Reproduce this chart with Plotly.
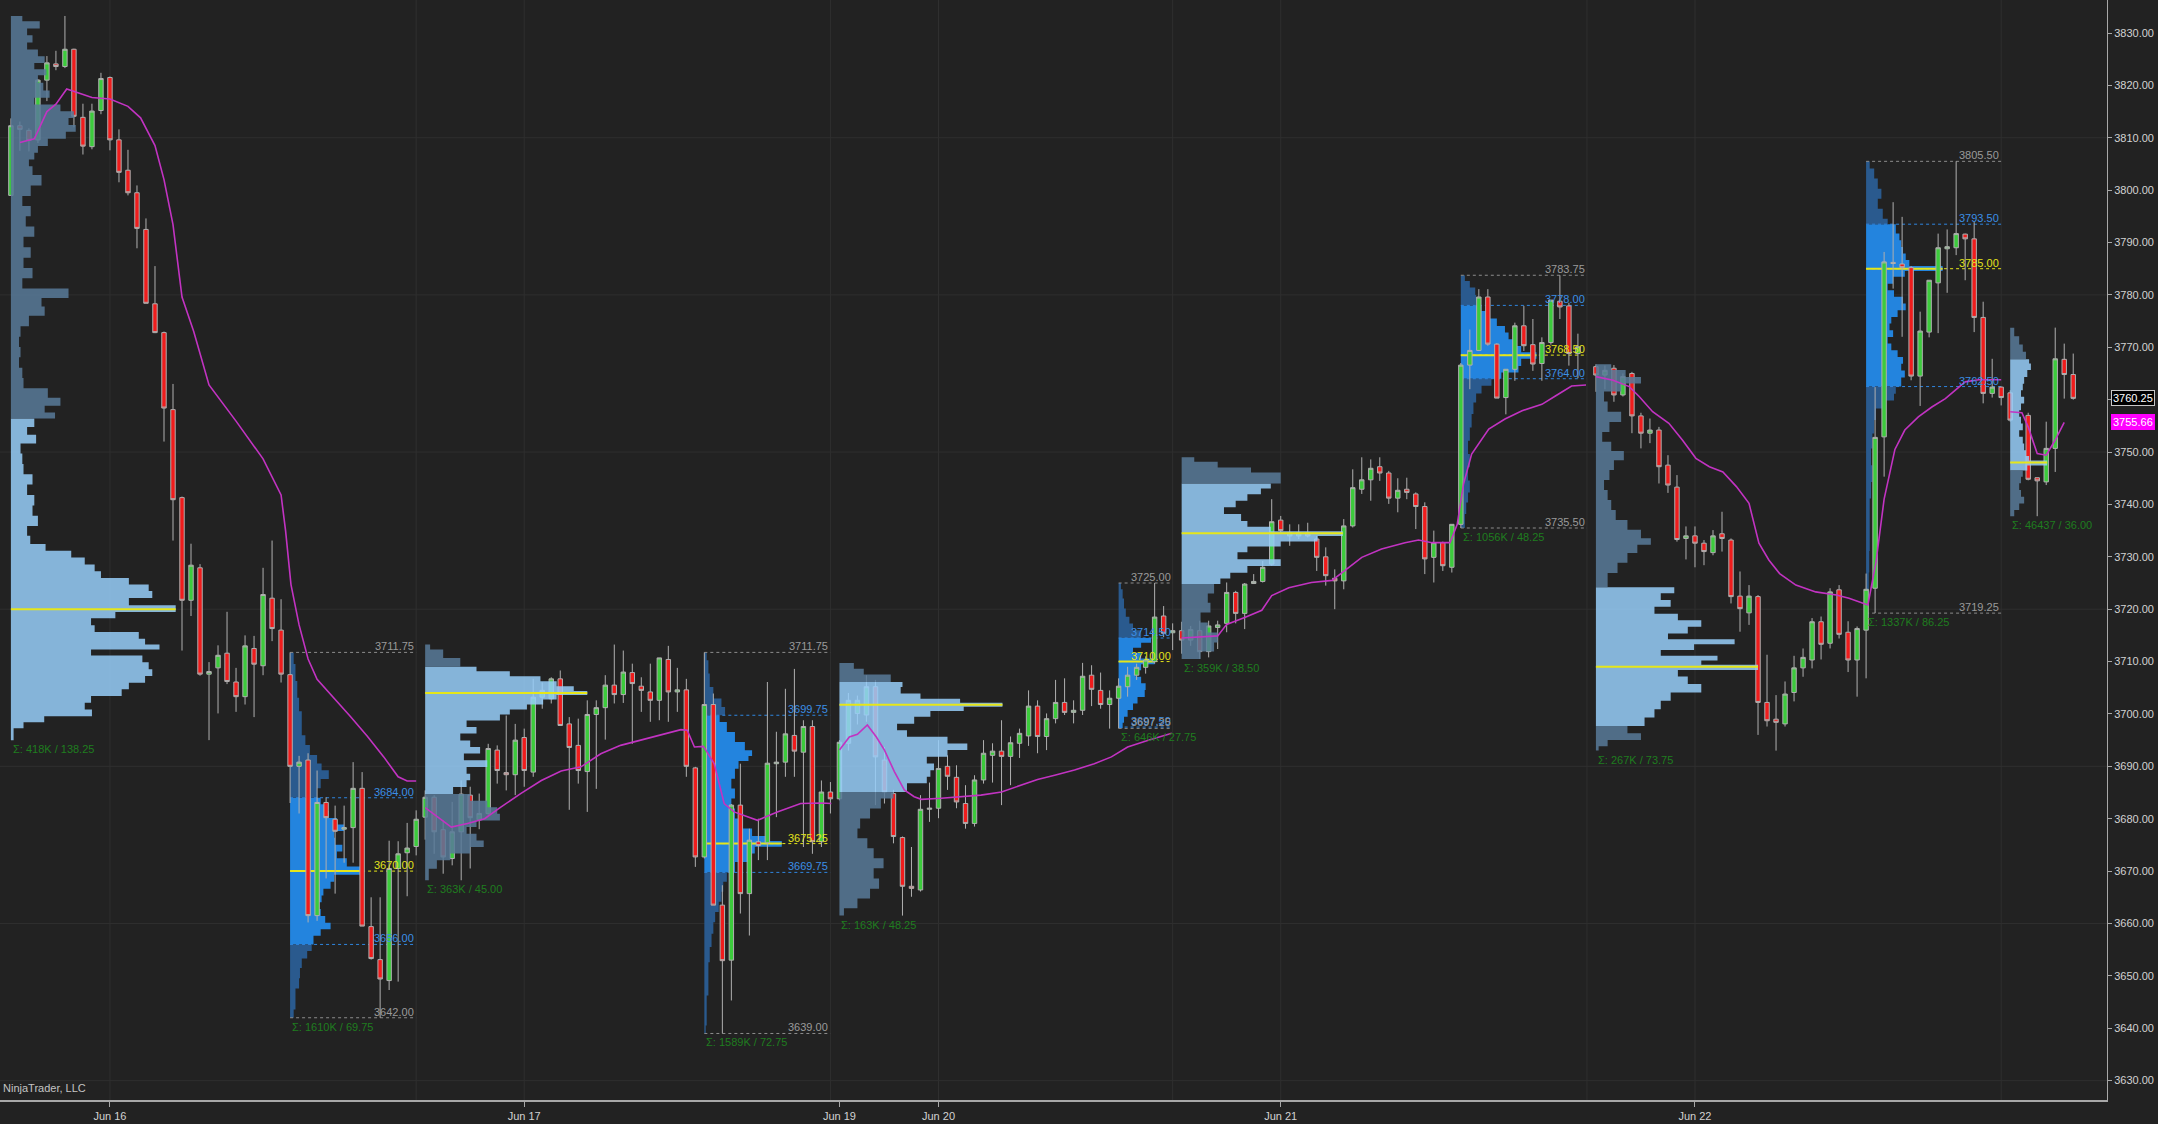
import plotly.graph_objects as go

# ---------------- data (30-minute bars, slot index; sessions back to back) ----------------
opens = [
    3799.0, 3812.3, 3811.4, 3809.6, 3821.0, 3824.1, 3823.6, 3826.9, 3813.9, 3808.3,
    3815.2, 3821.5, 3809.6, 3803.8, 3799.5, 3792.5, 3778.3, 3772.8, 3758.1, 3741.3,
    3721.7, 3727.9, 3707.6, 3708.8, 3711.6, 3706.1, 3703.3, 3712.5, 3709.2, 3722.1,
    3716.0, 3707.5, 3690.0, 3691.2, 3661.5, 3683.1, 3679.9, 3678.0, 3678.3, 3685.8,
    3659.4, 3653.1, 3649.1, 3670.5, 3673.5, 3674.7, 3680.3, 3684.1, 3677.9, 3672.4,
    3677.5, 3684.5, 3679.8, 3681.0, 3693.1, 3688.8, 3688.4, 3695.5, 3688.9, 3703.2,
    3702.9, 3706.7, 3698.1, 3694.0, 3689.0, 3699.9, 3701.2, 3705.5, 3703.7, 3707.9,
    3705.3, 3704.2, 3702.6, 3710.4, 3704.2, 3704.6, 3689.7, 3672.7, 3701.8, 3663.5,
    3653.0, 3682.6, 3665.7, 3675.6, 3675.4, 3690.5, 3690.8, 3695.9, 3692.7, 3697.6,
    3675.6, 3685.1, 3683.8, 3694.4, 3700.1, 3699.8, 3705.2, 3691.2, 3684.8, 3676.4,
    3667.1, 3666.4, 3681.8, 3682.0, 3690.0, 3687.9, 3682.9, 3679.1, 3687.4, 3692.1,
    3692.9, 3691.9, 3694.4, 3695.8, 3701.5, 3695.7, 3699.1, 3702.2, 3700.3, 3700.7,
    3707.4, 3704.5, 3701.8, 3703.0, 3705.2, 3707.4, 3708.9, 3710.0, 3718.7, 3715.5,
    3715.9, 3714.1, 3715.9, 3711.9, 3716.5, 3717.3, 3723.2, 3719.2, 3724.9, 3725.3,
    3728.6, 3737.0, 3734.0, 3734.0, 3734.6, 3733.4, 3730.0, 3725.9, 3725.4, 3735.9,
    3742.9, 3744.7, 3747.2, 3746.0, 3741.2, 3742.9, 3742.0, 3739.6, 3729.9, 3732.7,
    3728.0, 3736.2, 3766.6, 3769.4, 3779.6, 3770.6, 3760.4, 3765.8, 3774.1, 3770.5,
    3766.9, 3770.9, 3778.8, 3777.9, 3768.8, None, 3766.3, 3764.7, 3766.0, 3760.9,
    3765.0, 3756.9, 3753.6, 3754.2, 3747.5, 3743.3, 3733.5, 3734.0, 3732.6, 3730.8,
    3734.4, 3733.2, 3722.5, 3719.3, 3722.4, 3702.2, 3699.0, 3698.1, 3704.1, 3708.8,
    3710.3, 3717.6, 3713.5, 3723.7, 3715.6, 3710.3, 3716.0, 3724.0, 3752.9, 3786.2,
    3785.9, 3785.2, 3764.5, 3772.9, 3782.3, 3788.8, 3789.0, 3791.6, 3790.7, 3775.7,
    3761.2, 3762.4, 3761.3, None, 3757.0, 3745.1, 3744.3, 3750.7, 3767.7, 3764.8,
]
highs = [
    3813.7, 3813.1, 3811.8, 3821.2, 3825.6, 3826.6, 3833.25, 3827.0, 3816.5, 3816.5,
    3822.4, 3821.7, 3811.6, 3807.7, 3800.9, 3794.6, 3785.5, 3773.0, 3763.0, 3741.5,
    3732.5, 3728.6, 3709.9, 3713.1, 3719.5, 3708.8, 3715.0, 3714.9, 3727.9, 3733.1,
    3721.9, 3711.75, 3692.0, 3692.5, 3689.2, 3684.1, 3682.5, 3682.5, 3690.8, 3688.9,
    3665.0, 3665.0, 3675.8, 3675.7, 3679.2, 3681.6, 3685.4, 3684.5, 3679.7, 3683.2,
    3687.3, 3686.1, 3684.8, 3694.3, 3694.0, 3699.7, 3698.1, 3697.2, 3706.7, 3706.0,
    3707.0, 3708.3, 3699.4, 3699.1, 3702.6, 3702.6, 3707.4, 3713.25, 3712.1, 3709.6,
    3707.0, 3709.6, 3710.7, 3713.0, 3708.8, 3706.7, 3689.9, 3711.75, 3703.9, 3667.3,
    3682.8, 3690.5, 3678.1, 3680.0, 3706.1, 3696.6, 3704.8, 3708.6, 3698.8, 3698.8,
    3687.3, 3687.0, 3695.0, 3704.0, 3703.5, 3707.4, 3706.5, 3693.7, 3685.5, 3676.6,
    3674.6, 3684.5, 3686.9, 3695.0, 3692.1, 3690.2, 3686.4, 3688.3, 3695.0, 3694.4,
    3698.8, 3695.7, 3697.2, 3704.5, 3702.6, 3700.1, 3706.5, 3706.8, 3702.6, 3709.75,
    3709.3, 3707.9, 3704.5, 3706.8, 3709.0, 3709.6, 3711.0, 3725.0, 3720.6, 3717.3,
    3717.6, 3716.8, 3717.8, 3717.8, 3717.8, 3725.1, 3723.5, 3725.0, 3726.7, 3729.2,
    3741.0, 3737.8, 3736.2, 3736.2, 3736.5, 3734.0, 3731.8, 3727.6, 3737.2, 3746.7,
    3749.0, 3748.6, 3749.0, 3746.4, 3745.0, 3745.1, 3742.3, 3740.4, 3735.0, 3732.9,
    3736.2, 3767.0, 3773.4, 3781.1, 3781.1, 3770.8, 3765.8, 3774.7, 3777.9, 3775.4,
    3771.9, 3779.0, 3783.75, 3778.5, 3772.6, None, 3766.75, 3766.5, 3766.6, 3765.0,
    3765.3, 3757.5, 3756.4, 3754.8, 3749.4, 3745.6, 3735.8, 3735.8, 3733.2, 3735.1,
    3738.6, 3733.5, 3727.2, 3724.6, 3722.7, 3711.3, 3703.6, 3706.2, 3711.1, 3712.5,
    3718.3, 3718.6, 3724.0, 3724.6, 3717.7, 3716.7, 3726.8, 3762.4, 3788.2, 3797.7,
    3794.9, 3785.5, 3776.8, 3782.8, 3791.7, 3792.5, 3805.5, 3791.7, 3793.9, 3778.7,
    3767.8, 3762.5, 3761.8, None, 3757.5, 3745.1, 3755.8, 3773.75, 3770.7, 3768.8,
]
lows = [
    3799.0, 3807.5, 3807.4, 3809.0, 3817.0, 3822.9, 3823.3, 3812.0, 3806.8, 3807.8,
    3814.5, 3807.6, 3801.5, 3799.0, 3788.9, 3778.4, 3772.7, 3752.0, 3733.1, 3712.1,
    3718.7, 3707.3, 3695.0, 3700.1, 3705.7, 3700.4, 3701.8, 3699.4, 3707.4, 3713.9,
    3706.0, 3683.0, 3681.0, 3660.2, 3660.5, 3668.6, 3665.7, 3671.6, 3671.6, 3659.5,
    3653.1, 3642.0, 3647.3, 3648.9, 3665.2, 3673.0, 3676.0, 3673.3, 3669.5, 3671.1,
    3668.25, 3670.5, 3678.0, 3680.6, 3686.7, 3685.4, 3684.5, 3686.1, 3688.0, 3701.0,
    3702.0, 3697.8, 3681.7, 3686.7, 3681.3, 3685.7, 3695.1, 3702.0, 3702.1, 3694.3,
    3700.4, 3698.5, 3698.8, 3698.5, 3700.4, 3688.0, 3670.8, 3672.4, 3663.5, 3639.0,
    3645.3, 3661.9, 3657.7, 3672.1, 3672.1, 3680.3, 3688.0, 3688.0, 3674.6, 3673.3,
    3674.6, 3681.0, 3683.5, 3693.0, 3698.0, 3698.5, 3682.6, 3682.9, 3675.3, 3661.5,
    3665.1, 3666.1, 3679.4, 3680.1, 3685.5, 3682.0, 3678.1, 3678.5, 3686.7, 3686.9,
    3682.6, 3686.4, 3691.6, 3693.9, 3692.5, 3693.1, 3698.2, 3699.8, 3698.2, 3699.8,
    3701.5, 3701.0, 3697.2, 3697.25, 3703.3, 3706.5, 3707.7, 3709.6, 3714.7, 3712.2,
    3711.5, 3713.0, 3710.5, 3710.8, 3712.4, 3715.6, 3717.3, 3716.2, 3724.8, 3725.1,
    3728.3, 3734.6, 3732.1, 3733.4, 3733.7, 3727.3, 3724.5, 3720.0, 3723.8, 3735.6,
    3742.0, 3740.7, 3744.5, 3740.1, 3738.5, 3741.0, 3735.3, 3726.7, 3725.1, 3727.3,
    3727.0, 3735.5, 3762.0, 3769.3, 3770.3, 3760.3, 3757.2, 3763.6, 3769.3, 3765.5,
    3763.6, 3770.5, 3775.4, 3766.5, 3764.1, None, 3761.5, 3762.0, 3759.6, 3760.6,
    3753.6, 3750.7, 3751.7, 3744.0, 3742.2, 3732.9, 3729.5, 3728.0, 3728.4, 3730.3,
    3731.0, 3721.1, 3715.7, 3717.0, 3696.0, 3697.6, 3693.0, 3697.6, 3702.4, 3707.1,
    3708.7, 3710.4, 3712.5, 3714.4, 3708.0, 3703.3, 3706.8, 3719.25, 3745.3, 3781.2,
    3772.0, 3763.7, 3758.8, 3771.9, 3772.7, 3780.4, 3787.6, 3782.8, 3772.9, 3759.3,
    3760.4, 3758.9, 3755.8, None, 3744.6, 3737.75, 3743.7, 3746.2, 3760.2, 3760.0,
]
closes = [
    3812.3, 3811.6, 3809.5, 3821.0, 3824.3, 3823.6, 3826.9, 3814.1, 3808.4, 3815.1,
    3821.3, 3809.6, 3803.4, 3799.5, 3792.7, 3778.4, 3772.8, 3758.4, 3740.9, 3721.7,
    3728.4, 3707.6, 3708.1, 3711.2, 3706.2, 3703.3, 3713.0, 3709.5, 3722.8, 3716.3,
    3707.6, 3690.0, 3690.8, 3661.5, 3683.1, 3680.2, 3677.6, 3678.3, 3685.8, 3659.5,
    3653.3, 3649.4, 3670.5, 3673.3, 3674.4, 3679.9, 3684.1, 3677.5, 3672.7, 3677.5,
    3684.7, 3680.2, 3681.0, 3693.4, 3689.2, 3688.4, 3695.0, 3689.2, 3703.2, 3704.5,
    3706.7, 3697.8, 3693.6, 3689.2, 3699.9, 3701.2, 3705.5, 3703.7, 3708.0, 3705.8,
    3704.5, 3702.6, 3710.7, 3704.2, 3704.6, 3690.0, 3672.7, 3701.8, 3663.5, 3652.9,
    3682.6, 3665.7, 3675.9, 3674.9, 3690.6, 3690.8, 3696.2, 3692.9, 3697.6, 3675.6,
    3685.1, 3683.8, 3694.6, 3702.6, 3702.6, 3705.2, 3691.8, 3685.1, 3676.6, 3667.1,
    3666.7, 3681.8, 3682.0, 3689.6, 3688.1, 3683.2, 3679.1, 3687.4, 3692.5, 3692.9,
    3691.9, 3694.5, 3696.3, 3701.5, 3695.7, 3699.1, 3702.2, 3700.3, 3700.7, 3707.2,
    3704.7, 3701.8, 3703.0, 3705.3, 3707.4, 3708.9, 3710.3, 3718.5, 3715.4, 3715.9,
    3714.1, 3716.1, 3711.9, 3716.8, 3717.0, 3723.2, 3719.2, 3724.8, 3725.3, 3728.0,
    3736.7, 3735.0, 3734.6, 3734.6, 3734.0, 3729.9, 3726.4, 3725.4, 3735.9, 3743.2,
    3744.7, 3746.9, 3746.0, 3741.2, 3742.7, 3742.3, 3739.6, 3729.6, 3732.7, 3728.3,
    3736.2, 3766.6, 3769.4, 3779.6, 3770.6, 3760.3, 3765.8, 3774.1, 3770.3, 3766.8,
    3770.9, 3779.0, 3777.7, 3768.8, 3770.1, None, 3764.7, 3765.6, 3760.9, 3764.4,
    3756.9, 3753.6, 3754.2, 3747.2, 3743.7, 3733.3, 3734.0, 3732.6, 3731.0, 3734.0,
    3733.5, 3722.4, 3720.1, 3722.5, 3702.2, 3698.7, 3698.4, 3703.8, 3708.8, 3710.8,
    3717.6, 3713.3, 3723.3, 3715.2, 3710.3, 3716.3, 3723.8, 3752.8, 3786.3, 3786.0,
    3785.2, 3764.5, 3773.1, 3782.8, 3789.0, 3789.2, 3791.7, 3790.7, 3775.7, 3761.2,
    3762.4, 3760.4, 3756.1, None, 3744.8, 3744.5, 3750.7, 3767.8, 3764.8, 3760.25,
]

# session VWAP (magenta): (slot, price), None separates sessions
vwap_x = [1, 2.6, 4, 5, 6.2, 8, 9, 11, 13, 14.4, 16, 17, 18, 19, 20.3, 22, 25, 28, 30, 30.5,
          31.1, 32, 33, 34, 36, 37.7, 39.6, 41.4, 43, 44, 45, None,
          46, 47.4, 48.9, 50.7, 52.6, 54.4, 56.6, 58.9, 61.1, 63.3, 65.5, 67.7, 70, 72.2, 74.4,
          75.1, 75.9, 76.9, 78.1, 79.2, 80.3, 82.9, 85.1, 87.7, 90, 91.1, None,
          92, 93.1, 94, 95.1, 96.1, 97, 98.1, 99.2, 100.3, 101.1, 103.3, 105.5, 107.7, 110,
          112.2, 114, 115.9, 118.1, 120.3, 122.2, 124, 126.3, 128.9, None,
          130, 134, 135, 137, 138.9, 140, 141.9, 144.4, 146.7, 148.1, 150, 152.2, 154.8, 156.3,
          157.8, 159.8, 160.6, 161.3, 162.2, 164.1, 165.9, 167.8, 170, 171.5, 173.3, 174.9, None,
          176, 177.9, 179.7, 180.8, 182.3, 184.1, 185.6, 187.1, 188.6, 190.1, 191.6, 193, 194.1,
          195.2, 196.4, 198.2, 200.4, 202.7, 204.1, 205.6, 206.2, 207.1, 208, 209.2, 210.3,
          211.8, 213.3, 214.8, 215.9, 217, 218.5, 220, 221, None,
          222, 223.3, 224, 225, 226, 227, 228]
vwap_y = [3809.1, 3809.8, 3815.0, 3816.4, 3819.3, 3818.2, 3817.7, 3817.4, 3816.0, 3813.8, 3808.5,
          3802.0, 3793.4, 3779.6, 3773.0, 3762.8, 3755.9, 3748.7, 3741.8, 3735.0,
          3724.7, 3717.0, 3710.5, 3706.6, 3702.8, 3699.5, 3695.7, 3691.8, 3688.0, 3687.2, 3687.2, None,
          3682.1, 3680.3, 3678.4, 3679.1, 3680.0, 3682.2, 3684.8, 3687.3, 3689.1, 3689.9, 3692.4,
          3694.0, 3695.0, 3695.9, 3697.0, 3696.9, 3693.7, 3693.8, 3690.5, 3682.9, 3681.3, 3679.7,
          3681.3, 3682.9, 3683.0, 3682.9, None,
          3693.1, 3695.6, 3696.1, 3697.9, 3695.6, 3693.1, 3689.0, 3685.5, 3684.2, 3683.7, 3683.9,
          3684.2, 3684.5, 3685.1, 3686.4, 3687.5, 3688.3, 3689.3, 3690.5, 3691.8, 3693.7, 3695.0,
          3696.3, None,
          3714.5, 3714.9, 3717.1, 3718.4, 3719.8, 3722.6, 3724.1, 3725.1, 3725.5, 3727.3, 3729.9,
          3731.5, 3732.7, 3733.2, 3732.7, 3732.7, 3736.2, 3743.9, 3749.6, 3754.4, 3756.3, 3757.9,
          3759.1, 3760.7, 3762.6, 3762.8, None,
          3764.4, 3763.7, 3762.5, 3760.6, 3757.7, 3755.5, 3752.3, 3748.8, 3747.2, 3746.2, 3743.4,
          3740.2, 3732.6, 3729.4, 3726.8, 3724.6, 3723.3, 3722.7, 3722.1, 3721.1, 3720.8, 3729.0,
          3741.0, 3750.5, 3754.2, 3756.7, 3758.6, 3760.2, 3761.8, 3763.4, 3763.8, 3763.8, 3763.8, None,
          3757.7, 3757.5, 3754.8, 3749.7, 3749.4, 3752.3, 3755.66]

last_price = 3760.25
vwap_last = 3755.66

# axis labels / grid
tick_slots = [11, 57, 92, 103, 141, 187]
tick_text = ["Jun 16", "Jun 17", "Jun 19", "Jun 20", "Jun 21", "Jun 22"]
vgrid_slots = [11, 45, 57, 91, 103, 129, 141, 175, 187, 221]
hgrid_prices = [3630, 3660, 3690, 3720, 3750, 3780, 3810]

# ---------------- volume profiles (price level, width in bar slots) ----------------
p1_prices = [3833.0, 3831.5, 3830.2, 3828.9, 3827.5, 3826.2, 3824.9, 3823.6, 3822.6, 3821.3,
             3819.7, 3818.3, 3817.0, 3815.7, 3814.4, 3813.1, 3811.8, 3810.5, 3809.1, 3807.8,
             3806.5, 3805.2, 3803.9, 3801.9, 3799.9, 3797.9, 3796.0, 3794.0, 3792.1, 3790.1,
             3788.1, 3786.1, 3784.2, 3782.2, 3780.2, 3778.6, 3777.0, 3775.0, 3773.0, 3771.0,
             3769.1, 3767.1, 3765.1, 3763.2, 3761.2, 3759.5, 3758.2, 3756.9, 3755.6, 3754.0,
             3752.6, 3750.7, 3748.7, 3746.7, 3744.8, 3742.8, 3740.8, 3738.8, 3736.9, 3734.9,
             3733.1, 3731.8, 3730.5, 3729.2, 3727.9, 3726.6, 3725.3, 3724.1, 3722.8, 3721.5,
             3720.0, 3718.9, 3717.6, 3716.3, 3715.0, 3713.7, 3712.8, 3711.8, 3710.5, 3709.2,
             3707.9, 3706.6, 3705.3, 3704.1, 3702.8, 3701.5, 3700.2, 3698.9, 3697.9, 3696.6]
p1_widths = [1.27, 3.2, 1.8, 2.4, 1.8, 3.0, 3.75, 2.6, 3.95, 3.0,
             3.6, 4.3, 2.6, 5.5, 7.0, 6.4, 7.2, 6.1, 4.1, 3.0,
             2.6, 2.0, 2.4, 3.4, 2.2, 1.27, 2.2, 1.65, 2.6, 1.4,
             2.2, 1.4, 2.4, 1.27, 6.4, 3.4, 3.75, 2.0, 1.07, 0.9,
             1.07, 0.9, 1.27, 1.4, 4.1, 5.5, 3.75, 4.9, 2.6, 1.8,
             2.8, 1.07, 1.27, 1.4, 2.4, 1.8, 2.6, 2.4, 3.0, 1.8,
             2.15, 3.85, 6.7, 8.2, 9.3, 10.0, 13.1, 15.3, 15.7, 13.1,
             18.3, 11.6, 8.9, 9.3, 14.2, 14.9, 16.5, 8.9, 14.6, 15.3,
             15.7, 14.9, 13.1, 12.3, 8.9, 8.2, 9.0, 3.7, 1.4, 0.3]

p2_prices = [3711.2, 3707.9, 3704.7, 3701.5, 3699.5, 3696.9, 3695.0, 3693.1, 3691.2, 3689.9,
             3688.6, 3686.6, 3685.0, 3683.4, 3682.1, 3680.8, 3679.5, 3678.3, 3677.0, 3675.7,
             3674.4, 3673.1, 3671.8, 3670.0, 3668.6, 3667.3, 3666.0, 3664.7, 3663.4, 3662.1,
             3660.8, 3659.5, 3658.3, 3657.0, 3655.4, 3654.1, 3652.5, 3650.5, 3648.6, 3646.6,
             3644.7, 3642.5]
p2_widths = [0.4, 0.6, 0.8, 1.0, 1.3, 1.3, 1.7, 2.2, 3.0, 3.5,
             4.3, 3.4, 3.0, 3.4, 3.9, 4.3, 5.2, 6.0, 4.9, 5.0,
             5.8, 5.2, 6.3, 7.8, 4.9, 4.5, 3.7, 3.5, 3.2, 3.4,
             3.9, 4.5, 3.4, 2.6, 2.4, 1.9, 1.3, 1.1, 1.0, 0.6,
             0.6, 0.4]

p3_prices = [3713.1, 3711.5, 3709.9, 3708.6, 3707.7, 3706.7, 3705.8, 3704.8, 3704.0, 3703.2,
             3702.3, 3701.3, 3700.4, 3699.4, 3698.1, 3696.9, 3695.6, 3694.3, 3693.1, 3691.8,
             3690.5, 3689.2, 3688.0, 3686.7, 3685.4, 3684.1, 3682.8, 3681.6, 3680.3, 3679.0,
             3677.8, 3676.5, 3675.2, 3674.0, 3672.7, 3671.4, 3669.5]
p3_widths = [0.55, 2.0, 3.9, 5.7, 9.4, 12.8, 14.6, 16.5, 18.0, 14.6,
             13.1, 11.3, 9.4, 8.3, 4.6, 5.7, 3.9, 5.0, 6.1, 4.3,
             6.9, 4.6, 5.0, 4.6, 3.1, 5.0, 6.9, 8.0, 8.3, 5.7,
             4.6, 5.7, 6.5, 5.0, 2.8, 1.3, 0.4]

p4_prices = [3711.5, 3709.0, 3706.4, 3703.9, 3702.0, 3700.7, 3699.4, 3697.5, 3695.6, 3693.7,
             3692.4, 3691.5, 3690.5, 3688.6, 3686.7, 3684.8, 3682.9, 3681.0, 3679.1, 3677.2,
             3676.2, 3675.25, 3674.0, 3672.7, 3670.8, 3668.9, 3667.0, 3665.1, 3663.2, 3661.2,
             3659.3, 3656.8, 3654.2, 3651.0, 3647.8, 3644.7, 3641.5, 3639.5]
p4_widths = [0.26, 0.45, 0.6, 1.0, 1.9, 2.3, 1.7, 2.5, 3.4, 4.5,
             5.3, 4.9, 3.8, 3.4, 3.0, 3.4, 3.0, 3.4, 4.1, 5.3,
             7.1, 8.6, 5.6, 4.9, 3.4, 2.5, 2.1, 1.9, 1.6, 1.2,
             1.0, 0.8, 0.6, 0.45, 0.45, 0.26, 0.26, 0.15]

p5_prices = [3709.3, 3708.0, 3707.1, 3705.8, 3704.5, 3703.3, 3702.5, 3701.75, 3701.0, 3700.1,
             3698.8, 3697.5, 3696.3, 3695.0, 3693.7, 3692.5, 3691.2, 3689.9, 3688.6, 3687.4,
             3686.1, 3684.8, 3682.9, 3681.0, 3679.1, 3677.2, 3675.3, 3673.4, 3671.5, 3669.6,
             3667.6, 3665.7, 3663.8, 3662.0]
p5_widths = [1.6, 2.7, 5.7, 7.0, 6.8, 9.0, 13.4, 18.1, 13.8, 10.1,
             8.3, 6.4, 7.5, 12.0, 14.2, 12.0, 9.7, 10.5, 10.1, 9.7,
             7.5, 6.0, 4.6, 3.4, 2.3, 2.0, 3.1, 3.8, 4.9, 3.8,
             4.4, 3.4, 2.0, 0.5]

p6_prices = [3724.6, 3723.0, 3721.1, 3719.2, 3717.9, 3716.6, 3715.4, 3714.1, 3713.1, 3712.2,
             3711.2, 3710.0, 3709.0, 3707.7, 3706.5, 3705.2, 3703.9, 3702.6, 3701.4, 3700.1,
             3698.8, 3697.8]
p6_widths = [0.26, 0.45, 0.6, 0.8, 1.2, 1.6, 2.5, 3.6, 2.5, 1.6,
             2.5, 4.0, 2.5, 1.9, 2.5, 3.0, 2.9, 2.1, 1.6, 1.0,
             0.6, 0.45]

p7_prices = [3748.6, 3747.7, 3746.4, 3745.8, 3743.5, 3742.6, 3741.3, 3740.1, 3738.8, 3737.5,
             3736.2, 3735.3, 3734.5, 3733.4, 3732.4, 3731.5, 3730.2, 3728.9, 3727.6, 3726.3,
             3725.4, 3723.8, 3722.2, 3720.3, 3718.4, 3716.5, 3714.6, 3712.7, 3711.1]
p7_widths = [1.4, 4.0, 7.7, 11.0, 9.9, 8.8, 7.3, 6.0, 4.7, 6.6,
             7.3, 9.9, 17.9, 15.1, 11.0, 7.3, 6.2, 11.0, 7.3, 5.4,
             4.3, 3.6, 2.9, 3.2, 2.1, 2.9, 4.0, 3.6, 2.1]

p8_prices = [3783.3, 3782.0, 3780.8, 3779.2, 3777.6, 3776.3, 3774.7, 3773.4, 3772.2, 3770.9,
             3769.6, 3768.5, 3767.1, 3765.8, 3764.6, 3763.3, 3762.0, 3760.4, 3758.5, 3756.0,
             3753.4, 3750.9, 3748.4, 3745.8, 3743.3, 3741.3, 3739.4, 3736.9]
p8_widths = [0.45, 1.0, 1.6, 1.7, 2.3, 2.9, 4.0, 4.9, 5.3, 6.0,
             6.7, 8.4, 6.7, 6.4, 4.5, 3.4, 2.3, 1.7, 1.4, 1.2,
             1.0, 0.8, 1.0, 0.8, 1.0, 0.8, 0.6, 0.45]

p9_prices = [3766.3, 3765.0, 3763.7, 3762.5, 3760.6, 3758.7, 3756.7, 3754.8, 3752.9, 3751.0,
             3749.4, 3747.5, 3745.6, 3743.7, 3741.8, 3739.9, 3738.0, 3736.1, 3734.2, 3732.9,
             3731.7, 3729.8, 3727.9, 3725.9, 3723.7, 3722.4, 3721.1, 3719.8, 3718.5, 3717.3,
             3716.0, 3714.7, 3713.8, 3712.8, 3711.6, 3710.6, 3709.8, 3709.0, 3707.8, 3706.5,
             3704.9, 3703.3, 3701.7, 3700.1, 3698.5, 3696.9, 3695.7, 3694.4, 3693.3]
p9_widths = [1.7, 3.3, 5.0, 2.8, 0.9, 1.3, 2.8, 1.5, 0.7, 1.7,
             3.1, 2.0, 1.5, 0.9, 1.3, 1.7, 2.2, 3.5, 5.0, 6.1,
             4.6, 3.5, 2.4, 1.3, 8.7, 7.2, 8.3, 6.5, 9.1, 11.7,
             10.2, 8.0, 15.4, 10.9, 7.2, 13.5, 11.7, 18.0, 9.1, 10.2,
             11.7, 8.3, 7.2, 6.5, 5.4, 3.5, 5.0, 1.3, 0.3]

p10_prices = [3805.1, 3803.2, 3801.2, 3799.3, 3797.4, 3795.5, 3793.6, 3792.3, 3791.1, 3789.8,
              3788.5, 3787.3, 3786.0, 3785.0, 3784.1, 3782.8, 3781.5, 3780.3, 3779.0, 3777.7,
              3776.4, 3775.2, 3773.9, 3772.6, 3771.3, 3770.1, 3768.8, 3767.5, 3766.2, 3764.9,
              3763.6, 3761.8, 3760.5, 3759.2, 3757.4, 3754.8, 3752.3, 3749.1, 3745.9, 3742.7,
              3739.6, 3736.4, 3733.2, 3729.0, 3725.0, 3721.5, 3719.6]
p10_widths = [0.4, 0.9, 1.3, 1.7, 1.3, 1.85, 2.4, 3.3, 3.7, 3.9,
              4.1, 4.4, 4.8, 8.5, 4.3, 3.0, 2.4, 3.1, 4.1, 4.4,
              3.5, 2.8, 2.6, 3.0, 2.4, 2.8, 3.5, 4.1, 3.9, 4.3,
              3.9, 3.3, 3.1, 1.85, 1.1, 0.9, 0.7, 0.55, 0.7, 0.55,
              0.4, 0.4, 0.4, 0.35, 0.3, 0.25, 0.2]

p11_prices = [3772.9, 3771.3, 3769.8, 3768.5, 3767.5, 3766.3, 3765.0, 3763.7, 3762.4, 3761.2,
              3759.9, 3758.6, 3757.4, 3756.1, 3754.8, 3753.5, 3752.3, 3751.0, 3749.7, 3748.8,
              3748.0, 3746.9, 3745.9, 3744.7, 3743.4, 3742.1, 3740.8, 3739.6, 3738.3]
p11_widths = [0.45, 1.0, 1.4, 1.75, 2.1, 2.3, 1.9, 1.55, 1.4, 1.2,
              1.55, 1.2, 1.0, 1.2, 1.4, 1.0, 1.4, 1.55, 1.75, 2.1,
              4.1, 1.9, 1.4, 1.2, 1.0, 1.2, 1.55, 1.0, 0.45]

# profile summary values: start slot, box end slot (RTH), low, high, VAL, VAH, POC, label
prof_start = [0, 31, 46, 77, 92, 123, 130, 161, 176, 206, 222]
prof_end = [None, 45, None, 91, None, 129, None, 175, None, 221, None]
prof_low = [3695.0, 3642.0, 3668.25, 3639.0, 3661.5, 3697.25, 3710.5, 3735.5, 3693.0, 3719.25, 3737.75]
prof_high = [3833.25, 3711.75, 3713.25, 3711.75, 3709.75, 3725.0, 3749.0, 3783.75, 3766.75, 3805.5, 3773.75]
prof_val = [3696.0, 3656.0, 3684.7, 3669.75, 3685.1, 3697.5, 3724.8, 3764.0, 3697.7, 3762.5, 3746.5]
prof_vah = [3756.4, 3684.0, 3709.0, 3699.75, 3706.1, 3714.5, 3744.0, 3778.0, 3724.2, 3793.5, 3767.7]
prof_poc = [3720.0, 3670.0, 3704.0, 3675.25, 3701.75, 3710.0, 3734.5, 3768.5, 3709.0, 3785.0, 3748.0]
prof_sigma = ["Σ: 418K / 138.25", "Σ: 1610K / 69.75", "Σ: 363K / 45.00", "Σ: 1589K / 72.75",
              "Σ: 163K / 48.25", "Σ: 646K / 27.75", "Σ: 359K / 38.50", "Σ: 1056K / 48.25",
              "Σ: 267K / 73.75", "Σ: 1337K / 86.25", "Σ: 46437 / 36.00"]

prof_levels = [(p1_prices, p1_widths), (p2_prices, p2_widths), (p3_prices, p3_widths),
               (p4_prices, p4_widths), (p5_prices, p5_widths), (p6_prices, p6_widths),
               (p7_prices, p7_widths), (p8_prices, p8_widths), (p9_prices, p9_widths),
               (p10_prices, p10_widths), (p11_prices, p11_widths)]

# ---------------- styles ----------------
BG = "#222222"
GRID = "#2f2f2f"
AXIS = "#a8a8a8"
TXT = "#d2d2d2"
FONT = "Liberation Sans, Arial, sans-serif"
C_ON_VA = "rgba(150,205,248,0.86)"
C_ON_OUT = "rgba(88,122,152,0.86)"
C_RTH_VA = "#2384de"
C_RTH_OUT = "#2a5a8e"
C_POC = "#e6e619"
C_VA_LINE = "#2f86e0"
C_HL = "#8c8c8c"
C_SIGMA = "#1f7d1f"

fig = go.Figure()

# candles
idx = [i for i in range(len(opens)) if opens[i] is not None]
fig.add_trace(go.Candlestick(
    x=idx,
    open=[opens[i] for i in idx], high=[highs[i] for i in idx],
    low=[lows[i] for i in idx], close=[closes[i] for i in idx],
    increasing=dict(fillcolor="#3ccb3c", line=dict(color="#b0b0b0", width=1)),
    decreasing=dict(fillcolor="#f01c1c", line=dict(color="#b0b0b0", width=1)),
    whiskerwidth=0, hoverinfo="skip", showlegend=False,
))


def profile_polys(x0, prices, widths, lo, hi, va_lo, va_hi):
    pairs = sorted(zip(prices, widths))
    ps = [p for p, _ in pairs]
    ws = [w for _, w in pairs]
    n = len(ps)
    inva = [va_lo <= p <= va_hi for p in ps]
    edges = [lo] + [(ps[i] + ps[i + 1]) / 2 for i in range(n - 1)] + [hi]
    for i in range(n - 1):
        if inva[i] != inva[i + 1]:
            target = va_lo if inva[i + 1] else va_hi
            edges[i + 1] = min(max(target, ps[i]), ps[i + 1])
    runs = []
    start = 0
    for i in range(1, n + 1):
        if i == n or inva[i] != inva[start]:
            runs.append((start, i - 1, inva[start]))
            start = i
    out = {True: [], False: []}
    for a, b, flag in runs:
        xs, ys = [x0], [edges[a]]
        for k in range(a, b + 1):
            xs += [x0 + ws[k], x0 + ws[k]]
            ys += [edges[k], edges[k + 1]]
        xs += [x0, x0]
        ys += [edges[b + 1], edges[a]]
        out[flag].append((xs, ys))
    return out


shapes = []
for s in vgrid_slots:
    shapes.append(dict(type="line", xref="x", yref="paper", x0=s, x1=s, y0=0, y1=1,
                       line=dict(color=GRID, width=1), layer="below"))
for p in hgrid_prices:
    shapes.append(dict(type="line", xref="paper", yref="y", x0=0, x1=1, y0=p, y1=p,
                       line=dict(color=GRID, width=1), layer="below"))

on_poly = {True: ([], []), False: ([], [])}
for k, (pp, ww) in enumerate(prof_levels):
    res = profile_polys(prof_start[k], pp, ww, prof_low[k], prof_high[k], prof_val[k], prof_vah[k])
    if prof_end[k] is None:
        # overnight profiles are drawn translucent over the candles
        for flag in (True, False):
            for xs, ys in res[flag]:
                on_poly[flag][0].extend(xs + [None])
                on_poly[flag][1].extend(ys + [None])
    else:
        # regular-session profiles sit behind the candles
        for flag in (True, False):
            for xs, ys in res[flag]:
                path = "M " + " L ".join(f"{a},{b}" for a, b in zip(xs, ys)) + " Z"
                shapes.append(dict(type="path", xref="x", yref="y", path=path,
                                   fillcolor=C_RTH_VA if flag else C_RTH_OUT,
                                   line=dict(width=0), layer="below"))
        x0, x1 = prof_start[k], prof_end[k]
        for v, col in ((prof_high[k], C_HL), (prof_low[k], C_HL),
                       (prof_vah[k], C_VA_LINE), (prof_val[k], C_VA_LINE), (prof_poc[k], C_POC)):
            shapes.append(dict(type="line", xref="x", yref="y", x0=x0, x1=x1, y0=v, y1=v,
                               line=dict(color=col, width=1, dash="dot"), layer="below"))
        poc_w = ww[min(range(len(pp)), key=lambda i: abs(pp[i] - prof_poc[k]))]
        shapes.append(dict(type="line", xref="x", yref="y", x0=x0, x1=x0 + poc_w,
                           y0=prof_poc[k], y1=prof_poc[k], line=dict(color=C_POC, width=2), layer="below"))

for flag, col in ((True, C_ON_VA), (False, C_ON_OUT)):
    fig.add_trace(go.Scatter(x=on_poly[flag][0], y=on_poly[flag][1], mode="none", fill="toself",
                             fillcolor=col, hoverinfo="skip", showlegend=False))

# overnight POC lines
poc_x, poc_y = [], []
for k, (pp, ww) in enumerate(prof_levels):
    if prof_end[k] is None:
        x0 = prof_start[k]
        poc_w = ww[min(range(len(pp)), key=lambda i: abs(pp[i] - prof_poc[k]))]
        poc_x += [x0, x0 + poc_w, None]
        poc_y += [prof_poc[k], prof_poc[k], None]
fig.add_trace(go.Scatter(x=poc_x, y=poc_y, mode="lines", line=dict(color=C_POC, width=2),
                         hoverinfo="skip", showlegend=False))

# VWAP
fig.add_trace(go.Scatter(x=vwap_x, y=vwap_y, mode="lines", line=dict(color="#c233c2", width=1.6),
                         connectgaps=False, hoverinfo="skip", showlegend=False))

# price tag pointers
fig.add_trace(go.Scatter(x=[232.95, 232.95], y=[last_price, vwap_last], mode="markers",
                         marker=dict(symbol="triangle-left", size=13, color=["#000000", "#ff00ff"],
                                     line=dict(color=["#c8c8c8", "#ff00ff"], width=1)),
                         cliponaxis=False, hoverinfo="skip", showlegend=False))

annotations = []
for k in range(len(prof_start)):
    annotations.append(dict(x=prof_start[k], y=prof_low[k], xref="x", yref="y", text=prof_sigma[k],
                            showarrow=False, xanchor="left", yanchor="top", yshift=-1,
                            font=dict(color=C_SIGMA, size=11, family=FONT)))
    if prof_end[k] is not None:
        for v, col in ((prof_high[k], "#9a9a9a"), (prof_vah[k], "#3b8fe6"), (prof_poc[k], "#e2e21c"),
                       (prof_val[k], "#3b8fe6"), (prof_low[k], "#9a9a9a")):
            annotations.append(dict(x=prof_end[k], y=v, xref="x", yref="y", text=f"{v:.2f}",
                                    showarrow=False, xanchor="right", yanchor="bottom", yshift=-2,
                                    font=dict(color=col, size=11, family=FONT)))

annotations.append(dict(x=1, y=last_price, xref="paper", yref="y", text=f"{last_price:.2f}",
                        showarrow=False, xanchor="left", yanchor="middle", xshift=4,
                        bgcolor="#000000", bordercolor="#c8c8c8", borderwidth=1, borderpad=1,
                        font=dict(color="#ffffff", size=11, family=FONT)))
annotations.append(dict(x=1, y=vwap_last, xref="paper", yref="y", text=f"{vwap_last:.2f}",
                        showarrow=False, xanchor="left", yanchor="middle", xshift=4,
                        bgcolor="#ff00ff", bordercolor="#ff00ff", borderwidth=1, borderpad=1,
                        font=dict(color="#ffffff", size=11, family=FONT)))
annotations.append(dict(x=0, y=0.011, xref="paper", yref="paper", text="NinjaTrader, LLC",
                        showarrow=False, xanchor="left", yanchor="middle", xshift=1,
                        font=dict(color="#c4c4c4", size=11, family=FONT)))

fig.update_layout(
    width=2158, height=1124,
    margin=dict(l=0, r=51, t=0, b=24, pad=0),
    paper_bgcolor=BG, plot_bgcolor=BG,
    showlegend=False,
    font=dict(family=FONT, size=11, color=TXT),
    annotations=annotations, shapes=shapes,
    xaxis=dict(range=[-1.21, 232.75], tickmode="array", tickvals=tick_slots, ticktext=tick_text,
               ticks="outside", ticklen=5, tickcolor=AXIS, showline=True, linecolor=AXIS, linewidth=2,
               showgrid=False, zeroline=False, rangeslider=dict(visible=False), fixedrange=True,
               tickfont=dict(color=TXT, size=11, family=FONT)),
    yaxis=dict(side="right", range=[3626.3, 3836.3], tick0=3630, dtick=10, tickformat=".2f",
               ticks="outside", ticklen=4, tickcolor=AXIS, showline=True, linecolor=AXIS, linewidth=1,
               showgrid=False, zeroline=False, fixedrange=True,
               tickfont=dict(color=TXT, size=11, family=FONT)),
    hovermode=False,
)

fig.write_html("out.html", config={"displayModeBar": False},
               post_script="document.body.style.margin='0px';")
